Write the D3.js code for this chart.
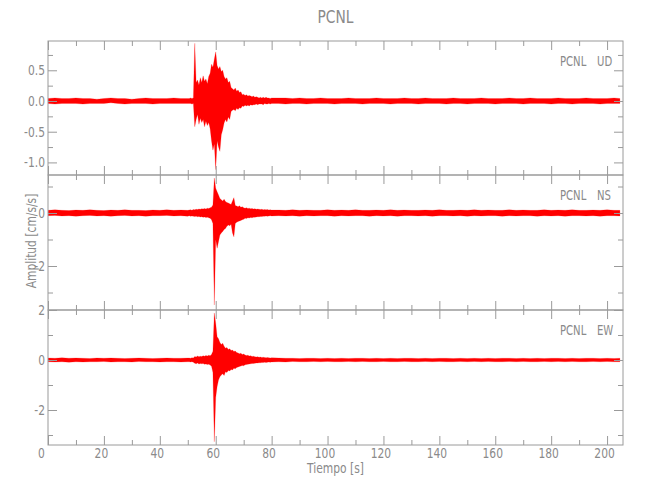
<!DOCTYPE html>
<html><head><meta charset="utf-8">
<script src="https://cdn.jsdelivr.net/npm/d3@7"></script>
<style>body{margin:0;background:#fff}</style>
</head><body>
<svg id="c" width="650" height="500"></svg>
<script>
// ---------- DATA ----------
const title = "PCNL";
const station = "PCNL";
const components = ["UD", "NS", "EW"];
const xLabel = "Tiempo [s]";
const yLabel = "Amplitud  [cm/s/s]";

// sample times (s): 0–50 every 2.5, 50.5–80 every 0.5, 82.5–202.5 every 2.5, end
const time = [
  0,2.5,5,7.5,10,12.5,15,17.5,20,22.5,25,27.5,30,32.5,35,37.5,40,42.5,45,47.5,50,
  50.5,51,51.5,52,52.5,53,53.5,54,54.5,55,
  55.5,56,56.5,57,57.5,58,58.5,59,59.5,60,
  60.5,61,61.5,62,62.5,63,63.5,64,64.5,65,
  65.5,66,66.5,67,67.5,68,68.5,69,69.5,70,
  70.5,71,71.5,72,72.5,73,73.5,74,74.5,75,
  75.5,76,76.5,77,77.5,78,78.5,79,79.5,80,
  82.5,85,87.5,90,92.5,95,97.5,100,102.5,105,
  107.5,110,112.5,115,117.5,120,122.5,125,127.5,130,
  132.5,135,137.5,140,142.5,145,147.5,150,152.5,155,
  157.5,160,162.5,165,167.5,170,172.5,175,177.5,180,
  182.5,185,187.5,190,192.5,195,197.5,200,202.5,204.6
];

// envelope (max / min) of each trace, cm/s/s
const udHigh = [
  .04,.05,.04,.04,.05,.04,.04,.03,.04,.05,.04,.04,.03,.04,.05,.04,.04,.04,.05,.04,.04,
  .04,.05,.04,.05,.94,.30,.34,.26,.38,.30,
  .41,.32,.36,.28,.40,.45,.60,.55,.68,.80,
  .58,.52,.56,.48,.50,.40,.36,.38,.30,.32,
  .22,.20,.18,.21,.16,.18,.14,.15,.10,.11,
  .09,.10,.08,.09,.08,.07,.08,.06,.07,.06,
  .05,.06,.05,.06,.05,.06,.05,.05,.04,.05,
  .05,.05,.04,.05,.04,.04,.05,.04,.04,.04,
  .05,.04,.04,.04,.05,.04,.04,.04,.05,.04,
  .04,.05,.04,.04,.04,.05,.04,.04,.04,.05,
  .04,.04,.04,.05,.04,.04,.05,.04,.04,.04,
  .05,.04,.04,.04,.05,.04,.04,.04,.05,.04
];
const udLow = [
  -.04,-.05,-.04,-.04,-.04,-.05,-.04,-.04,-.04,-.03,-.04,-.05,-.04,-.04,-.04,-.05,-.04,-.04,-.04,-.04,-.04,
  -.04,-.04,-.05,-.04,-.42,-.30,-.22,-.38,-.28,-.35,
  -.30,-.42,-.33,-.40,-.35,-.45,-.65,-.80,-.70,-1.12,
  -.65,-.75,-.82,-.55,-.47,-.36,-.30,-.34,-.26,-.30,
  -.17,-.15,-.14,-.16,-.12,-.14,-.11,-.12,-.08,-.09,
  -.07,-.08,-.07,-.08,-.06,-.07,-.06,-.06,-.05,-.06,
  -.05,-.05,-.05,-.06,-.04,-.05,-.05,-.04,-.05,-.04,
  -.04,-.05,-.04,-.04,-.05,-.04,-.04,-.04,-.05,-.04,
  -.04,-.04,-.05,-.04,-.04,-.04,-.05,-.04,-.04,-.04,
  -.05,-.04,-.04,-.04,-.05,-.04,-.04,-.05,-.04,-.04,
  -.04,-.05,-.04,-.04,-.04,-.05,-.04,-.04,-.04,-.05,
  -.04,-.04,-.05,-.04,-.04,-.04,-.05,-.04,-.04,-.04
];
const nsHigh = [
  .10,.12,.10,.09,.11,.10,.12,.10,.09,.11,.10,.12,.10,.10,.09,.11,.10,.12,.10,.11,.10,
  .11,.12,.10,.13,.12,.14,.13,.15,.14,.16,
  .15,.17,.15,.18,.17,.20,.22,.30,1.32,.93,
  .80,.68,.55,.50,.45,.52,.43,.40,.38,.35,
  .32,.45,.58,.28,.26,.24,.27,.22,.24,.20,
  .18,.20,.17,.18,.16,.17,.15,.16,.14,.15,
  .14,.13,.14,.12,.13,.12,.13,.11,.12,.11,
  .11,.10,.12,.10,.11,.10,.10,.12,.10,.11,
  .10,.12,.10,.10,.11,.10,.12,.10,.11,.10,
  .10,.11,.10,.12,.10,.10,.11,.10,.12,.10,
  .11,.10,.10,.12,.10,.11,.10,.10,.12,.10,
  .11,.10,.12,.10,.10,.11,.10,.12,.10,.10
];
const nsLow = [
  -.10,-.09,-.11,-.10,-.12,-.10,-.09,-.11,-.10,-.12,-.10,-.09,-.11,-.10,-.12,-.10,-.10,-.09,-.11,-.10,-.12,
  -.10,-.12,-.11,-.12,-.13,-.12,-.14,-.13,-.15,-.14,
  -.16,-.15,-.17,-.16,-.18,-.20,-.25,-.40,-3.47,-1.00,
  -1.33,-1.08,-.83,-.75,-.70,-.62,-.58,-.50,-.45,-.48,
  -.42,-.75,-.90,-.40,-.35,-.32,-.30,-.28,-.25,-.24,
  -.20,-.21,-.18,-.19,-.17,-.18,-.16,-.16,-.15,-.14,
  -.14,-.13,-.13,-.12,-.12,-.11,-.12,-.11,-.10,-.11,
  -.10,-.11,-.10,-.12,-.10,-.11,-.10,-.10,-.12,-.10,
  -.11,-.10,-.10,-.12,-.10,-.11,-.10,-.12,-.10,-.10,
  -.11,-.10,-.12,-.10,-.10,-.11,-.10,-.12,-.10,-.11,
  -.10,-.10,-.12,-.10,-.11,-.10,-.10,-.12,-.10,-.11,
  -.10,-.12,-.10,-.10,-.11,-.10,-.12,-.10,-.10,-.11
];
const ewHigh = [
  .08,.07,.09,.07,.08,.07,.06,.08,.07,.08,.07,.06,.07,.08,.07,.06,.07,.08,.07,.07,.08,
  .08,.07,.09,.08,.14,.12,.16,.13,.15,.14,
  .17,.15,.18,.16,.19,.17,.22,.35,1.88,1.47,
  .93,.85,.70,.62,.67,.55,.47,.50,.42,.45,
  .38,.40,.34,.36,.30,.28,.25,.27,.22,.24,
  .20,.18,.19,.16,.17,.14,.15,.13,.12,.13,
  .11,.12,.10,.11,.10,.09,.10,.09,.08,.09,
  .08,.07,.07,.06,.07,.07,.06,.07,.06,.07,
  .06,.07,.07,.06,.07,.06,.07,.06,.07,.07,
  .06,.07,.06,.07,.07,.06,.07,.06,.07,.06,
  .07,.06,.07,.07,.06,.07,.06,.07,.06,.07,
  .07,.06,.07,.06,.07,.07,.06,.07,.06,.07
];
const ewLow = [
  -.07,-.08,-.07,-.09,-.07,-.08,-.07,-.07,-.06,-.08,-.07,-.07,-.08,-.06,-.07,-.07,-.08,-.07,-.07,-.08,-.07,
  -.07,-.08,-.07,-.09,-.13,-.15,-.12,-.16,-.14,-.15,
  -.14,-.17,-.16,-.18,-.17,-.20,-.25,-.50,-3.27,-1.50,
  -1.07,-.80,-.67,-.60,-.55,-.62,-.47,-.50,-.42,-.44,
  -.38,-.40,-.33,-.35,-.30,-.28,-.26,-.24,-.22,-.23,
  -.19,-.18,-.17,-.16,-.15,-.14,-.14,-.13,-.12,-.12,
  -.11,-.11,-.10,-.10,-.09,-.10,-.09,-.08,-.09,-.08,
  -.07,-.08,-.06,-.07,-.07,-.06,-.07,-.06,-.07,-.07,
  -.06,-.07,-.06,-.07,-.07,-.06,-.07,-.07,-.06,-.07,
  -.07,-.06,-.07,-.06,-.07,-.07,-.06,-.07,-.06,-.07,
  -.06,-.07,-.07,-.06,-.07,-.06,-.07,-.07,-.06,-.07,
  -.06,-.07,-.06,-.07,-.07,-.06,-.07,-.06,-.07,-.07
];

// axes
const xDomain = [0, 205.7];
const xMajorTicks = [0,20,40,60,80,100,120,140,160,180,200];
const xMinorTicks = [10,30,50,70,90,110,130,150,170,190];
const udDomain = [-1.205, 0.977];
const nsDomain = [-3.66, 1.434];
const ewDomain = [-3.4, 2.0];
const udMajorTicks = [-1.0,-0.5,0.0,0.5];
const udTickLabels = ["-1.0","-0.5","0.0","0.5"];
const udMinorTicks = [-0.75,-0.25,0.25,0.75];
const nsMajorTicks = [0,-2];
const nsTickLabels = ["0","-2"];
const nsMinorTicks = [1,-1,-3];
const ewMajorTicks = [2,0,-2];
const ewTickLabels = ["2","0","-2"];
const ewMinorTicks = [1,-1,-3];

// ---------- DRAWING ----------
const FONT = "'Liberation Sans Narrow','DejaVu Sans Condensed','Liberation Sans',sans-serif";
const TEXT = "#8a8a8a", LINE = "#9a9a9a", RED = "#ff0000";
const svg = d3.select("#c");
const L = 48, R = 623;
const panels = [
  {top: 41, bottom: 175, comp: components[0], hi: udHigh, lo: udLow, domain: udDomain,
   major: udMajorTicks, labels: udTickLabels, minor: udMinorTicks},
  {top: 175, bottom: 310, comp: components[1], hi: nsHigh, lo: nsLow, domain: nsDomain,
   major: nsMajorTicks, labels: nsTickLabels, minor: nsMinorTicks},
  {top: 310, bottom: 445, comp: components[2], hi: ewHigh, lo: ewLow, domain: ewDomain,
   major: ewMajorTicks, labels: ewTickLabels, minor: ewMinorTicks}
];
const x = d3.scaleLinear().domain(xDomain).range([L, R]);

function squeeze(sel, f) {
  sel.each(function() {
    const w = this.getComputedTextLength();
    if (w > 0) { this.setAttribute("textLength", w * f); this.setAttribute("lengthAdjust", "spacingAndGlyphs"); }
  });
}

panels.forEach((p, i) => {
  const y = d3.scaleLinear().domain(p.domain).range([p.bottom, p.top]);
  const n = Math.min(time.length, p.hi.length, p.lo.length);
  const data = d3.range(n).map(k => ({t: time[k], hi: p.hi[k], lo: p.lo[k]}));
  const cid = "clip" + i;
  svg.append("clipPath").attr("id", cid).append("rect")
    .attr("x", L).attr("y", p.top).attr("width", R - L).attr("height", p.bottom - p.top);
  const area = d3.area().x(d => x(d.t)).y0(d => y(d.lo)).y1(d => y(d.hi));
  svg.append("path").datum(data).attr("clip-path", `url(#${cid})`)
    .attr("d", area).attr("fill", RED).attr("stroke", RED)
    .attr("stroke-width", 0.4).attr("stroke-opacity", 0.5).attr("stroke-linejoin", "round");

  // axes (ticks pointing inward on all four sides)
  const mk = (axis, tv, size, fmt) => axis.tickValues(tv).tickSize(-size).tickPadding(3).tickFormat(fmt);
  svg.append("g").attr("transform", `translate(${L},0)`)
    .call(mk(d3.axisLeft(y), p.major, 9, (d, k) => p.labels[k]));
  svg.append("g").attr("transform", `translate(${L},0)`).call(mk(d3.axisLeft(y), p.minor, 5, () => ""));
  svg.append("g").attr("transform", `translate(${R},0)`).call(mk(d3.axisRight(y), p.major, 9, () => ""));
  svg.append("g").attr("transform", `translate(${R},0)`).call(mk(d3.axisRight(y), p.minor, 5, () => ""));
  svg.append("g").attr("transform", `translate(0,${p.top})`).call(mk(d3.axisTop(x), xMajorTicks, 9, () => ""));
  svg.append("g").attr("transform", `translate(0,${p.top})`).call(mk(d3.axisTop(x), xMinorTicks, 5, () => ""));
  const gB = svg.append("g").attr("class", i === 2 ? "xlab" : null).attr("transform", `translate(0,${p.bottom})`)
    .call(mk(d3.axisBottom(x), xMajorTicks, 9, i === 2 ? (d => String(d)) : () => ""));
  svg.append("g").attr("transform", `translate(0,${p.bottom})`).call(mk(d3.axisBottom(x), xMinorTicks, 5, () => ""));

  svg.append("rect").attr("x", L).attr("y", p.top).attr("width", R - L).attr("height", p.bottom - p.top)
    .attr("fill", "none").attr("stroke", LINE).attr("stroke-width", 1);

  // station / component label
  const ly = p.top + 25;
  svg.append("text").attr("x", 560).attr("y", ly).text(station)
    .attr("font-family", FONT).attr("font-size", 14).attr("fill", TEXT).call(squeeze, 0.8);
  svg.append("text").attr("x", 597).attr("y", ly).text(p.comp)
    .attr("font-family", FONT).attr("font-size", 14).attr("fill", TEXT).call(squeeze, 0.8);
});

svg.selectAll(".domain").remove();
svg.selectAll(".tick line").attr("stroke", LINE);
svg.selectAll(".tick text").attr("fill", TEXT).attr("font-family", FONT).attr("font-size", 14).call(squeeze, 0.85);
svg.selectAll(".xlab .tick text").attr("dx", d => d === 0 ? -7 : -3);

svg.append("text").attr("x", (L + R) / 2).attr("y", 23).attr("text-anchor", "middle").text(title)
  .attr("font-family", FONT).attr("font-size", 17).attr("fill", TEXT).call(squeeze, 0.9);
svg.append("text").attr("x", (L + R) / 2).attr("y", 473).attr("text-anchor", "middle").text(xLabel)
  .attr("font-family", FONT).attr("font-size", 14).attr("fill", TEXT).call(squeeze, 0.85);
svg.append("text").attr("transform", "translate(36,241) rotate(-90)").attr("text-anchor", "middle").text(yLabel)
  .attr("font-family", FONT).attr("font-size", 14).attr("fill", TEXT).call(squeeze, 0.85);
</script>
</body></html>
